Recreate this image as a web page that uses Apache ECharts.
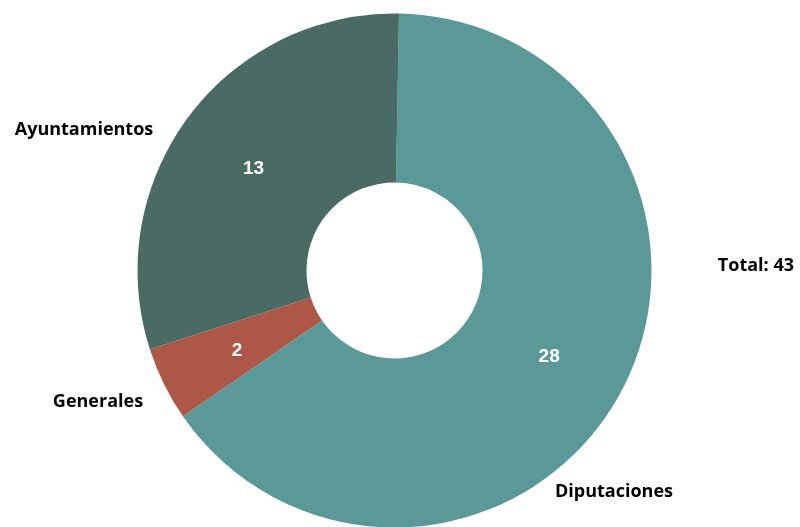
<!DOCTYPE html>
<html><head><meta charset="utf-8">
<script src="https://cdn.jsdelivr.net/npm/echarts@6/dist/echarts.min.js"></script>
<style>html,body{margin:0;padding:0;background:#fff}#c{width:800px;height:527px}</style>
</head><body><div id="c"></div>
<script>
const categories = ['Diputaciones', 'Generales', 'Ayuntamientos'];
const values = [28, 2, 13];
const colors = ['#5B9999', '#AD5746', '#4A6B64'];
const namePos = [[614, 492], [98, 402], [84, 130]];
const total = values.reduce((a, b) => a + b, 0);

const chart = echarts.init(document.getElementById('c'));
const data = categories.map((n, i) => ({ name: n, value: values[i], itemStyle: { color: colors[i] } }));
const data2 = categories.map((n, i) => ({ name: n, value: values[i] }));
chart.setOption({
  animation: false,
  title: {
    text: 'Total: ' + total,
    right: 1, top: 252,
    textStyle: { fontFamily: 'Open Sans', fontWeight: 'bold', fontSize: 18, color: '#000' }
  },
  series: [
    {
      type: 'pie', center: [394.5, 270.5], radius: [88, 257], startAngle: 89, clockwise: true,
      silent: true,
      label: { show: true, position: 'inside', formatter: '{c}', color: '#fff',
        fontFamily: 'Liberation Sans', fontWeight: 'bold', fontSize: 19 },
      labelLine: { show: false },
      labelLayout: { dy: 3 },
      data: data
    },
    {
      type: 'pie', center: [394.5, 270.5], radius: [88, 257], startAngle: 89, clockwise: true,
      silent: true, z: 1,
      itemStyle: { color: 'rgba(0,0,0,0)' },
      label: { show: true, position: 'outside', formatter: '{b}', color: '#000', overflow: 'none',
        fontFamily: 'Open Sans', fontWeight: 'bold', fontSize: 18 },
      labelLine: { show: false },
      labelLayout: function (p) {
        const pos = namePos[p.dataIndex];
        return { x: pos[0], y: pos[1], align: 'center', verticalAlign: 'middle' };
      },
      data: data2
    }
  ]
});
</script></body></html>
